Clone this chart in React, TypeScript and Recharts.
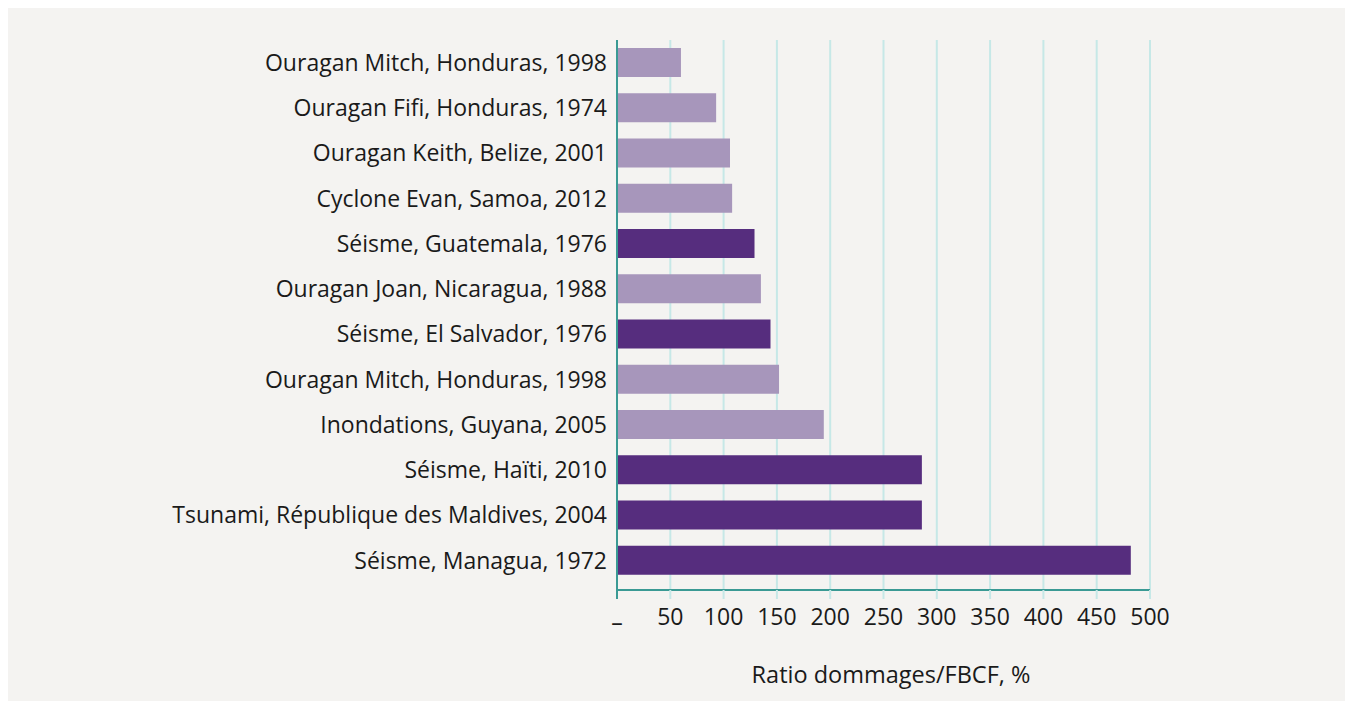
import { BarChart, Bar, XAxis, YAxis, CartesianGrid, Cell } from "recharts"

// disasters, top to bottom
const events = [
  "Ouragan Mitch, Honduras, 1998",
  "Ouragan Fifi, Honduras, 1974",
  "Ouragan Keith, Belize, 2001",
  "Cyclone Evan, Samoa, 2012",
  "Séisme, Guatemala, 1976",
  "Ouragan Joan, Nicaragua, 1988",
  "Séisme, El Salvador, 1976",
  "Ouragan Mitch, Honduras, 1998 ",
  "Inondations, Guyana, 2005",
  "Séisme, Haïti, 2010",
  "Tsunami, République des Maldives, 2004",
  "Séisme, Managua, 1972",
]
const ratios = [60, 93, 106, 108, 129, 135, 144, 152, 194, 286, 286, 482]
const isEarthquake = [false, false, false, false, true, false, true, false, false, true, true, true]
const xTicks = [0, 50, 100, 150, 200, 250, 300, 350, 400, 450, 500]

const data = events.map((name, i) => ({ name, value: ratios[i], quake: isEarthquake[i] }))

const LIGHT = "#a796bb"
const DARK = "#562d7e"
const GRID = "#c6e8e7"
const AXIS = "#3a9a94"
const FONT = "'Open Sans', sans-serif"

function XTick({ x, y, payload }: any) {
  if (payload.value === 0) {
    return (
      <g>
        <line x1={x} x2={x} y1={y - 20} y2={y - 11} stroke={AXIS} strokeWidth={2} />
        <text x={x} y={y + 5} textAnchor="middle" dy="0.71em" fontSize={23} fill="#1a1a1a" fontFamily={FONT}>
          –
        </text>
      </g>
    )
  }
  return (
    <text x={x} y={y - 1} textAnchor="middle" dy="0.71em" fontSize={23} fill="#1a1a1a" fontFamily={FONT}>
      {payload.value}
    </text>
  )
}

export default function App() {
  return (
    <div style={{ position: "relative", width: 1337, height: 693, background: "#f4f3f1" }}>
      <BarChart
        width={1337}
        height={693}
        data={data}
        layout="vertical"
        margin={{ top: 32, right: 195, left: 0, bottom: 71 }}
        barSize={29}
      >
        <CartesianGrid horizontal={false} stroke={GRID} strokeWidth={2} />
        <XAxis
          type="number"
          domain={[0, 500]}
          ticks={xTicks}
          interval={0}
          height={40}
          axisLine={{ stroke: AXIS, strokeWidth: 2 }}
          tickLine={{ stroke: GRID, strokeWidth: 2 }}
          tickSize={9}
          tickMargin={11}
          tick={<XTick />}
        />
        <YAxis
          type="category"
          dataKey="name"
          width={609}
          interval={0}
          padding={{ top: 0, bottom: 7 }}
          axisLine={{ stroke: AXIS, strokeWidth: 2 }}
          tickLine={false}
          tickSize={0}
          tickMargin={10}
          tick={{ fontSize: 23, fill: "#1a1a1a", fontFamily: FONT }}
        />
        <Bar dataKey="value" isAnimationActive={false}>
          {data.map((d, i) => (
            <Cell key={i} fill={d.quake ? DARK : LIGHT} />
          ))}
        </Bar>
      </BarChart>
      <div
        style={{
          position: "absolute",
          left: 0,
          width: 1766,
          top: 652,
          textAlign: "center",
          fontFamily: FONT,
          fontSize: 23.5,
          color: "#1a1a1a",
          lineHeight: "28px",
        }}
      >
        Ratio dommages/FBCF, %
      </div>
    </div>
  )
}
